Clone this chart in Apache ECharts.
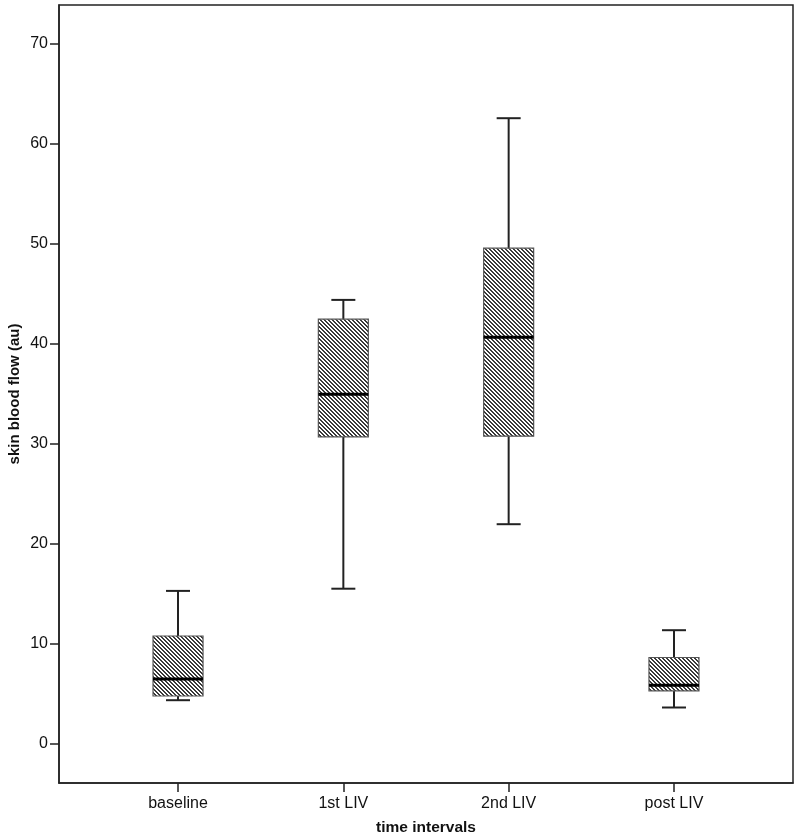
<!DOCTYPE html>
<html>
<head>
<meta charset="utf-8">
<script src="https://cdn.jsdelivr.net/npm/echarts@6/dist/echarts.min.js"></script>
<style>html,body{margin:0;padding:0;background:#fff;}#chart{width:800px;height:840px;}</style>
</head>
<body>
<div id="chart"></div>
<script>
// Data
const categories = ['baseline', '1st LIV', '2nd LIV', 'post LIV'];
const whiskerLow = [4.35, 15.5, 21.95, 3.62];
const q1 = [4.77, 30.68, 30.75, 5.28];
const medians = [6.47, 34.95, 40.65, 5.85];
const q3 = [10.77, 42.45, 49.55, 8.62];
const whiskerHigh = [15.28, 44.38, 62.55, 11.35];
const yTicks = [0, 10, 20, 30, 40, 50, 60, 70];

const positions = categories.map((c, i) => i + 1);
const data = categories.map((c, i) => [positions[i], whiskerLow[i], q1[i], medians[i], q3[i], whiskerHigh[i]]);

// crisp diagonal hatch pattern (2px dark / 2px light staircase)
const tile = document.createElement('canvas');
tile.width = 4; tile.height = 4;
const ctx = tile.getContext('2d');
ctx.fillStyle = '#ffffff';
ctx.fillRect(0, 0, 4, 4);
ctx.fillStyle = '#3a3a3a';
for (let y = 0; y < 4; y++) {
  for (let x = 0; x < 4; x++) {
    const d = ((x - y) % 4 + 4) % 4;
    if (d === 0 || d === 1) ctx.fillRect(x, y, 1, 1);
  }
}

const BOX_W = 50, CAP_W = 24;
const font = '"Liberation Sans", Arial, Helvetica, sans-serif';

const chart = echarts.init(document.getElementById('chart'));
chart.setOption({
  animation: false,
  backgroundColor: '#ffffff',
  grid: { left: 59, right: 7, top: 5, bottom: 57, outerBoundsMode: 'none', containLabel: false,
    show: true, borderColor: '#222', borderWidth: 1.5, backgroundColor: 'transparent' },
  xAxis: {
    type: 'value', min: 0.28, max: 4.72,
    name: 'time intervals', nameLocation: 'middle', nameGap: 37, nameMoveOverlap: false,
    nameTextStyle: { fontFamily: font, fontSize: 15.5, fontWeight: 'bold', color: '#111' },
    splitLine: { show: false },
    axisLine: { show: true, onZero: false, lineStyle: { color: '#222', width: 1.5 } },
    axisTick: { show: true, length: 9, lineStyle: { color: '#222', width: 1.5 }, customValues: positions },
    axisLabel: { margin: 13, fontFamily: font, fontSize: 16, color: '#111', customValues: positions,
      formatter: v => categories[Math.round(v) - 1] || '' }
  },
  yAxis: {
    type: 'value', min: -3.93, max: 73.87,
    name: 'skin blood flow (au)', nameLocation: 'middle', nameGap: 37, nameMoveOverlap: false,
    nameTextStyle: { fontFamily: font, fontSize: 15, fontWeight: 'bold', color: '#111' },
    splitLine: { show: false },
    axisLine: { show: true, onZero: false, lineStyle: { color: '#222', width: 1.5 } },
    axisTick: { show: true, length: 9, lineStyle: { color: '#222', width: 1.5 }, customValues: yTicks },
    axisLabel: { margin: 11, fontFamily: font, fontSize: 16, color: '#111', customValues: yTicks }
  },
  series: [{
    type: 'custom',
    data: data,
    encode: { x: 0, y: [1, 2, 3, 4, 5] },
    renderItem: function (params, api) {
      const x = api.value(0);
      const pLow = api.coord([x, api.value(1)]);
      const pQ1 = api.coord([x, api.value(2)]);
      const pMed = api.coord([x, api.value(3)]);
      const pQ3 = api.coord([x, api.value(4)]);
      const pHigh = api.coord([x, api.value(5)]);
      const cx = pMed[0];
      const lineStyle = { stroke: '#222', lineWidth: 2 };
      return {
        type: 'group',
        children: [
          { type: 'line', shape: { x1: cx, y1: pHigh[1], x2: cx, y2: pQ3[1] }, style: lineStyle },
          { type: 'line', shape: { x1: cx, y1: pQ1[1], x2: cx, y2: pLow[1] }, style: lineStyle },
          { type: 'line', shape: { x1: cx - CAP_W / 2, y1: pHigh[1], x2: cx + CAP_W / 2, y2: pHigh[1] }, style: lineStyle },
          { type: 'line', shape: { x1: cx - CAP_W / 2, y1: pLow[1], x2: cx + CAP_W / 2, y2: pLow[1] }, style: lineStyle },
          { type: 'rect', shape: { x: cx - BOX_W / 2, y: pQ3[1], width: BOX_W, height: pQ1[1] - pQ3[1] },
            style: { fill: { image: tile, repeat: 'repeat' }, stroke: '#555', lineWidth: 1.2 } },
          { type: 'line', shape: { x1: cx - BOX_W / 2, y1: pMed[1], x2: cx + BOX_W / 2, y2: pMed[1] },
            style: { stroke: '#000', lineWidth: 3 } }
        ]
      };
    }
  }]
});
</script>
</body>
</html>
